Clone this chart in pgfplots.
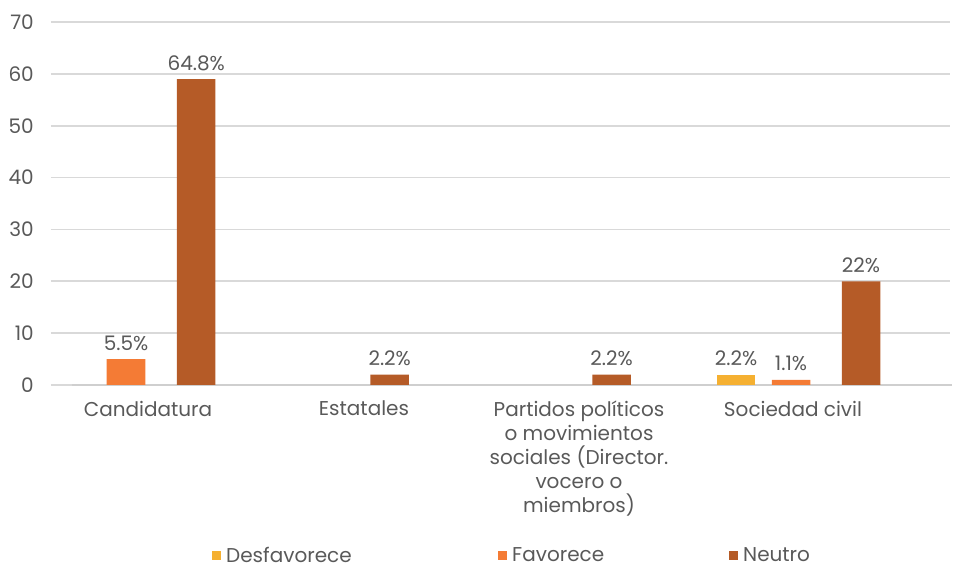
\documentclass[border=0pt]{standalone}
\usepackage{pgfplots}
\pgfplotsset{compat=1.18}
\usepackage{fontspec}
\setmainfont{Poppins}
\definecolor{desf}{HTML}{F5B031}
\definecolor{fav}{HTML}{F47B35}
\definecolor{neu}{HTML}{B55B27}
\definecolor{txt}{HTML}{595959}
\definecolor{gridc}{HTML}{D9D9D9}
\definecolor{basec}{HTML}{CFCFCF}
\begin{document}
\begin{tikzpicture}
\useasboundingbox (-51pt,-184pt) rectangle (908pt,385pt);
\begin{axis}[
  scale only axis, width=899pt, height=363pt,
  xmin=51, xmax=950, ymin=0, ymax=70,
  axis line style={draw=none},
  major tick length=0pt,
  ytick={0,10,...,70},
  ymajorgrids, grid style={gridc, line width=1.7pt},
  xtick={148,364,579,793},
  xticklabels={Candidatura, Estatales, {Partidos políticos\\o movimientos\\sociales (Director.\\vocero o\\miembros)}, Sociedad civil},
  /pgf/number format/assume math mode=true,
  tick label style={font=\fontsize{20}{24}\selectfont, text=txt, inner sep=0pt},
  yticklabel style={anchor=east, xshift=-17pt},
  xticklabel style={anchor=north, yshift=-16pt, align=center},
  clip=false,
  legend style={at={(0.1791,-0.4700)}, anchor=west, draw=none, fill=none, inner sep=0pt,
    font=\fontsize{20}{24}\selectfont, text=txt, nodes={inner sep=0pt},
    /tikz/every odd column/.append style={column sep=5pt}},
  legend columns=3,
  legend cell align=left,
  legend image code/.code={\fill[#1] (0pt,-4pt) rectangle (9pt,5pt);},
  every node near coord/.append style={font=\fontsize{20}{24}\selectfont, text=txt, anchor=base, inner sep=0pt, yshift=9pt},
]
\addplot[draw=basec, line width=1.8pt, forget plot] coordinates {(72,0) (952,0)};
\addplot[ybar, bar width=38.5, bar shift=0pt, fill=desf, draw=none,
  nodes near coords={\pgfplotspointmeta\%}, point meta=explicit symbolic]
  table[meta=lab] {
x y lab
736 2 2.2
};
\addlegendentry{\makebox[272pt][l]{Desfavorece}}
\addplot[ybar, bar width=38.5, bar shift=0pt, fill=fav, draw=none,
  nodes near coords={\pgfplotspointmeta\%}, point meta=explicit symbolic]
  table[meta=lab] {
x y lab
126 5 5.5
791 1 1.1
};
\addlegendentry{\makebox[217pt][l]{Favorece}}
\addplot[ybar, bar width=38.5, bar shift=0pt, fill=neu, draw=none,
  nodes near coords={\pgfplotspointmeta\%}, point meta=explicit symbolic]
  table[meta=lab] {
x y lab
196.2 59 64.8
389.7 2 2.2
611.5 2 2.2
861 20 22
};
\addlegendentry{Neutro}
\end{axis}
\end{tikzpicture}
\end{document}
